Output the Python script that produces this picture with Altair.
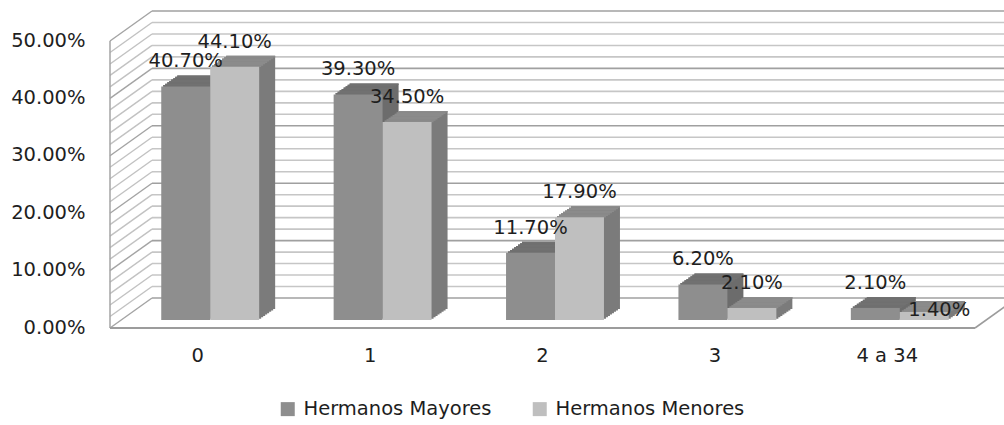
import altair as alt
import pandas as pd

categories = ["0", "1", "2", "3", "4 a 34"]
series = ["Hermanos Mayores", "Hermanos Menores"]
mayores = [0.407, 0.393, 0.117, 0.062, 0.021]
menores = [0.441, 0.345, 0.179, 0.021, 0.014]
y_ticks = [0.0, 0.1, 0.2, 0.3, 0.4, 0.5]
grid_values = [round(0.02 * i, 2) for i in range(26)]

rows = []
for i, c in enumerate(categories):
    for s, vals in enumerate([mayores, menores]):
        rows.append({"cat": c, "idx": i, "s": s, "serie": series[s], "val": vals[i]})
df = pd.DataFrame(rows)
grid_df = pd.DataFrame({"g": grid_values})
grid_df["major"] = [abs(g * 10 - round(g * 10)) < 1e-6 for g in grid_values]
edge_df = pd.DataFrame({"lo": [0.0], "hi": [0.5]})

FONT = "DejaVu Sans"
FS = 19.5
TXT = "#1e1e1e"
BW = 0.284
W, H = 862, 287

xs = alt.Scale(domain=[-0.5, 4.5], nice=False, zero=False)
ys = alt.Scale(domain=[0, 0.5], nice=False, zero=True)

x_axis = alt.Axis(
    values=[0, 1, 2, 3, 4], labelExpr=f"{categories}[datum.value]",
    title=None, ticks=False, domain=False, grid=False,
    labelFont=FONT, labelFontSize=FS, labelColor=TXT, labelPadding=26, labelOffset=-13,
)
y_axis = alt.Axis(
    values=y_ticks, format=".2%", title=None, ticks=False, domain=False, grid=False,
    labelFont=FONT, labelFontSize=FS, labelColor=TXT, labelPadding=39, labelOffset=7,
)


def X(f):
    return alt.X(f, scale=xs, axis=x_axis)


def Y(f):
    return alt.Y(f, scale=ys, axis=y_axis)


front_col = ["#8e8e8e", "#bfbfbf"]
side_col = ["#6c6c6c", "#7b7b7b"]
top_col = ["#717171", "#8b8b8b"]

base = alt.Chart(df).transform_calculate(
    x0=f"datum.idx + (datum.s - 1) * {BW}",
    x1=f"datum.idx + datum.s * {BW}",
    zero="0",
).transform_calculate(xm="(datum.x0 + datum.x1) / 2")

# back wall gridlines
grid = alt.Chart(grid_df).mark_rule(yOffset=-22, strokeWidth=1.6).encode(
    y=Y("g:Q"),
    x=alt.value(28),
    x2=alt.value(900),
    color=alt.condition("datum.major", alt.value("#a0a0a0"), alt.value("#c6c6c6")),
)
# left wall diagonals
wall = alt.Chart(grid_df).mark_rule(yOffset=8, y2Offset=-22, strokeWidth=1.4).encode(
    y=Y("g:Q"),
    y2="g:Q",
    x=alt.value(-14),
    x2=alt.value(28),
    color=alt.condition("datum.major", alt.value("#a4a4a4"), alt.value("#c2c2c2")),
)
wall_edge = alt.Chart(edge_df).mark_rule(yOffset=8, y2Offset=8, color="#a4a4a4", strokeWidth=1.5).encode(
    x=alt.value(-14), y=Y("lo:Q"), y2="hi:Q"
)
floor_front = alt.Chart(edge_df).mark_rule(yOffset=8, color="#9c9c9c", strokeWidth=2).encode(
    x=alt.value(-14), x2=alt.value(851), y=Y("lo:Q")
)
floor_right = alt.Chart(edge_df).mark_rule(yOffset=8, y2Offset=-22, color="#9c9c9c", strokeWidth=1.6).encode(
    x=alt.value(851), x2=alt.value(893), y=Y("lo:Q"), y2="lo:Q"
)

layers = [grid, wall, wall_edge, floor_front, floor_right]

STEPS = 8
for s in range(2):
    sub = base.transform_filter(f"datum.s == {s}")
    for k in range(1, STEPS + 1):
        dx = 2.0 * k
        dy = -1.375 * k
        layers.append(
            sub.mark_bar(xOffset=dx, x2Offset=dx, yOffset=dy, y2Offset=dy, color=side_col[s]).encode(
                x=X("x0:Q"), x2="x1:Q", y=Y("val:Q"), y2="zero:Q",
            )
        )
    for k in range(1, STEPS + 1):
        dx = 2.0 * k
        dy = -1.375 * k
        layers.append(
            sub.mark_bar(xOffset=dx, x2Offset=dx, yOffset=dy, y2Offset=dy + 1.6, color=top_col[s]).encode(
                x=X("x0:Q"), x2="x1:Q", y=Y("val:Q"), y2="val:Q",
            )
        )

front = base.mark_bar().encode(
    x=X("x0:Q"),
    x2="x1:Q",
    y=Y("val:Q"),
    y2="zero:Q",
    color=alt.Color("serie:N", scale=alt.Scale(domain=series, range=front_col), legend=alt.Legend(
        orient="none", legendX=154, legendY=366, direction="horizontal", title=None,
        symbolType="square", symbolSize=196, symbolStrokeWidth=0, labelFont=FONT,
        labelFontSize=FS, labelColor=TXT, columnPadding=38, labelOffset=6, padding=0,
        labelLimit=400,
    )),
)
layers.append(front)

labels = base.transform_filter("!(datum.idx == 4 && datum.s == 1)").mark_text(
    baseline="middle", dy=-25, font=FONT, fontSize=FS, color=TXT
).encode(
    x=X("xm:Q"),
    y=Y("val:Q"),
    text=alt.Text("val:Q", format=".2%"),
)
label_special = base.transform_filter("datum.idx == 4 && datum.s == 1").mark_text(
    baseline="middle", dy=-2, dx=15, font=FONT, fontSize=FS, color=TXT
).encode(
    x=X("xm:Q"),
    y=Y("val:Q"),
    text=alt.Text("val:Q", format=".2%"),
)
layers += [labels, label_special]

chart = alt.layer(*layers).properties(
    width=W, height=H,
    padding={"left": 124, "top": 33, "right": 18, "bottom": 425 - 33 - H},
    autosize=alt.AutoSizeParams(type="none"),
    background="white",
).configure_view(stroke=None)

chart.save("out.html", embed_options={"renderer": "svg", "actions": False})
